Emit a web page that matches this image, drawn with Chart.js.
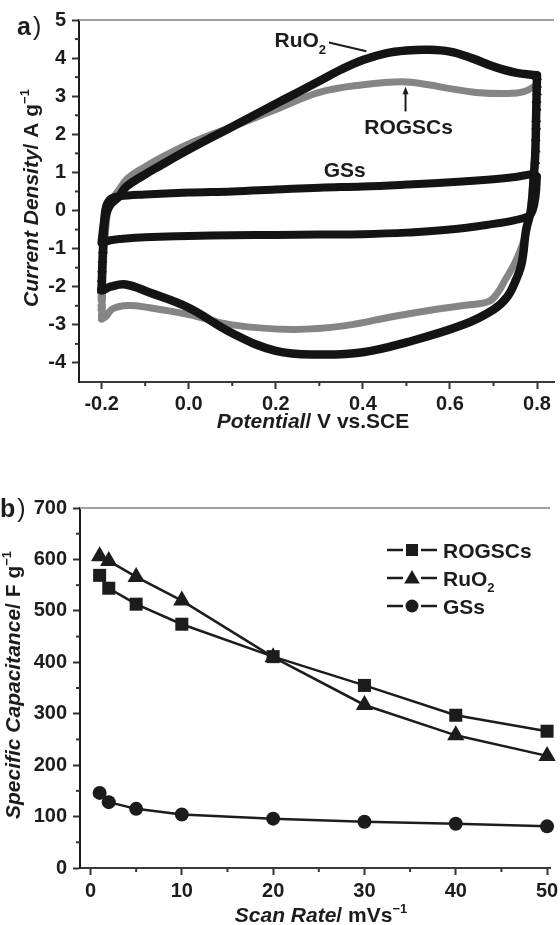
<!DOCTYPE html>
<html>
<head>
<meta charset="utf-8">
<script src="https://cdn.jsdelivr.net/npm/chart.js@4.4.0/dist/chart.umd.min.js"></script>
<style>
html, body { margin: 0; padding: 0; background: #fff; overflow: hidden; }
.box { position: relative; width: 560px; }
</style>
</head>
<body>
<div class="box" style="height:460px"><canvas id="chart-cv"></canvas></div>
<div class="box" style="height:465px"><canvas id="chart-rate"></canvas></div>
<script>
// ---- panel a: cyclic voltammograms (potential / V vs SCE, current density / A g-1)
const ruo2AnodicV = [-0.2, -0.198, -0.195, -0.19, -0.18, -0.16, -0.143, -0.1, -0.07, 0.0, 0.1, 0.2, 0.25, 0.3, 0.35, 0.4, 0.45, 0.5, 0.55, 0.6, 0.65, 0.7, 0.75, 0.8];
const ruo2AnodicI = [-2.0, -1.3, -0.6, -0.1, 0.15, 0.37, 0.63, 0.95, 1.15, 1.6, 2.2, 2.8, 3.1, 3.4, 3.7, 3.95, 4.12, 4.2, 4.22, 4.17, 4.0, 3.78, 3.62, 3.55];
const ruo2CathodicV = [0.8, 0.798, 0.796, 0.792, 0.786, 0.775, 0.765, 0.752, 0.732, 0.7, 0.63, 0.5, 0.4, 0.3, 0.2, 0.1, 0.0, -0.09, -0.145, -0.18, -0.2];
const ruo2CathodicI = [3.55, 2.5, 1.5, 0.8, 0.0, -0.5, -1.37, -1.81, -2.26, -2.6, -3.0, -3.46, -3.72, -3.78, -3.68, -3.22, -2.55, -2.15, -1.94, -2.0, -2.1];

const rogscsAnodicV = [-0.2, -0.198, -0.195, -0.19, -0.185, -0.175, -0.16, -0.14, -0.1, -0.07, 0.0, 0.1, 0.2, 0.3, 0.4, 0.49, 0.55, 0.6, 0.66, 0.73, 0.77, 0.8];
const rogscsAnodicI = [-2.85, -2.0, -1.2, -0.4, 0.0, 0.3, 0.55, 0.85, 1.15, 1.35, 1.75, 2.2, 2.65, 3.1, 3.3, 3.38, 3.3, 3.2, 3.1, 3.07, 3.12, 3.3];
const rogscsCathodicV = [0.8, 0.797, 0.792, 0.786, 0.777, 0.763, 0.748, 0.728, 0.71, 0.69, 0.64, 0.58, 0.47, 0.36, 0.24, 0.1, 0.0, -0.09, -0.14, -0.175, -0.19, -0.2];
const rogscsCathodicI = [3.3, 2.0, 1.0, 0.2, -0.5, -1.0, -1.4, -1.8, -2.15, -2.38, -2.48, -2.57, -2.78, -3.02, -3.12, -3.0, -2.73, -2.55, -2.49, -2.58, -2.78, -2.85];

const gssAnodicV = [-0.2, -0.195, -0.19, -0.18, -0.16, -0.1, 0.0, 0.1, 0.2, 0.3, 0.4, 0.5, 0.6, 0.7, 0.75, 0.79, 0.8];
const gssAnodicI = [-0.8, -0.3, 0.1, 0.3, 0.37, 0.42, 0.47, 0.5, 0.55, 0.6, 0.63, 0.68, 0.74, 0.82, 0.88, 0.95, 0.9];
const gssCathodicV = [0.8, 0.797, 0.79, 0.78, 0.75, 0.7, 0.6, 0.5, 0.4, 0.3, 0.2, 0.1, 0.0, -0.1, -0.16, -0.18, -0.2];
const gssCathodicI = [0.9, 0.4, 0.0, -0.15, -0.25, -0.35, -0.5, -0.58, -0.62, -0.63, -0.64, -0.65, -0.67, -0.7, -0.75, -0.78, -0.85];

// sparse points on the fast-switching edges, where single markers show
const ruo2EdgeV = [0.8, 0.8, 0.8, 0.799, 0.799, 0.798, 0.798, 0.797, 0.797, 0.796, 0.795, -0.2, -0.2, -0.199, -0.198, -0.197];
const ruo2EdgeI = [3.5, 3.3, 3.1, 2.9, 2.7, 2.4, 2.2, 1.9, 1.6, 1.3, 1.0, -2.1, -1.8, -1.55, -1.3, -1.05];
const rogscsEdgeV = [-0.2, -0.2, -0.199];
const rogscsEdgeI = [-2.3, -2.55, -2.8];

const cvTicksV = [-0.2, 0.0, 0.2, 0.4, 0.6, 0.8];
const cvTicksI = [-4, -3, -2, -1, 0, 1, 2, 3, 4, 5];

// ---- panel b: specific capacitance vs scan rate
const scanRates = [1, 2, 5, 10, 20, 30, 40, 50];
const capROGSCs = [569, 544, 513, 474, 411, 355, 297, 266];
const capRuO2 = [606, 597, 566, 520, 410, 317, 258, 218];
const capGSs = [146, 128, 115, 104, 96, 90, 86, 81];
const rateTicks = [0, 10, 20, 30, 40, 50];
const capTicks = [0, 100, 200, 300, 400, 500, 600, 700];

const FONT = '"Liberation Sans", Arial, Helvetica, sans-serif';
const INK = '#1c1c1c';
const tickFont = { family: FONT, size: 20, weight: 'bold' };

function pts(xs, ys) {
    return xs.map((x, k) => ({ x: x, y: ys[k] }));
}
function loop(v1, i1, v2, i2) {
    const p = pts(v1, i1).concat(pts(v2, i2));
    p.push(p[0]);
    return p;
}
function font(size, italic, weight) {
    return (italic ? 'italic ' : '') + (weight || 'bold') + ' ' + size + 'px ' + FONT;
}
// mixed italic / super- / subscript text, align left or center, optional rotation
function richText(ctx, parts, x, y, size, align, rotate) {
    const small = Math.round(size * 0.62);
    ctx.save();
    ctx.translate(x, y);
    if (rotate) ctx.rotate(rotate);
    ctx.textAlign = 'left';
    ctx.textBaseline = 'alphabetic';
    ctx.fillStyle = INK;
    let w = 0;
    parts.forEach(p => {
        ctx.font = font(p.sup || p.sub ? small : size, p.i, p.w);
        w += ctx.measureText(p.t).width;
    });
    let cx = align === 'center' ? -w / 2 : 0;
    parts.forEach(p => {
        ctx.font = font(p.sup || p.sub ? small : size, p.i, p.w);
        const dy = p.sup ? -size * 0.45 : (p.sub ? size * 0.3 : 0);
        ctx.fillText(p.t, cx, dy);
        cx += ctx.measureText(p.t).width;
    });
    ctx.restore();
}

function minorTicks(ctx, scale, values, len) {
    ctx.save();
    ctx.strokeStyle = '#333';
    ctx.lineWidth = 2;
    values.forEach(v => {
        const p = scale.getPixelForValue(v);
        ctx.beginPath();
        if (scale.isHorizontal()) {
            ctx.moveTo(p, scale.top);
            ctx.lineTo(p, scale.top + len);
        } else {
            ctx.moveTo(scale.right, p);
            ctx.lineTo(scale.right - len, p);
        }
        ctx.stroke();
    });
    ctx.restore();
}

const framePlugin = {
    id: 'frame',
    afterDraw(chart, args, opts) {
        const ctx = chart.ctx;
        const a = chart.chartArea;
        // light top frame line
        ctx.save();
        ctx.strokeStyle = '#a0a0a0';
        ctx.lineWidth = 2;
        ctx.beginPath();
        ctx.moveTo(a.left, a.top);
        ctx.lineTo(a.right, a.top);
        ctx.stroke();
        ctx.restore();
        minorTicks(ctx, chart.scales.x, opts.minorX, 4);
        minorTicks(ctx, chart.scales.y, opts.minorY, 4);
        // panel letter
        ctx.save();
        ctx.fillStyle = INK;
        ctx.textBaseline = 'alphabetic';
        ctx.font = font(25, false, 'bold');
        ctx.fillText(opts.letter, opts.letterX, opts.letterY);
        const lw = ctx.measureText(opts.letter).width;
        ctx.font = font(25, false, 'normal');
        ctx.fillText(')', opts.letterX + lw + 2, opts.letterY);
        ctx.restore();
        richText(ctx, opts.yTitle, opts.yTitleX, opts.yTitleY, 21, 'center', -Math.PI / 2);
        richText(ctx, opts.xTitle, opts.xTitleX, opts.xTitleY, 21, 'center', 0);
        if (opts.extra) opts.extra(chart, ctx);
    }
};

// ---------- chart a ----------
function cvNotes(chart, ctx) {
    const x = chart.scales.x, y = chart.scales.y;
    const X = v => x.getPixelForValue(v), Y = v => y.getPixelForValue(v);
    richText(ctx, [{ t: 'RuO' }, { t: '2', sub: true }], X(0.197), Y(4.28), 21, 'left');
    ctx.save();
    ctx.strokeStyle = INK;
    ctx.lineWidth = 2;
    ctx.beginPath();
    ctx.moveTo(X(0.322), Y(4.41));
    ctx.lineTo(X(0.408), Y(4.18));
    ctx.stroke();
    // arrow to ROGSCs
    const ax = X(0.498);
    ctx.beginPath();
    ctx.moveTo(ax, Y(2.6));
    ctx.lineTo(ax, Y(3.1));
    ctx.stroke();
    ctx.fillStyle = INK;
    ctx.beginPath();
    ctx.moveTo(ax, Y(3.25));
    ctx.lineTo(ax - 3, Y(3.05));
    ctx.lineTo(ax + 3, Y(3.05));
    ctx.closePath();
    ctx.fill();
    ctx.restore();
    richText(ctx, [{ t: 'ROGSCs' }], X(0.505), Y(2.02), 21, 'center');
    richText(ctx, [{ t: 'GSs' }], X(0.31), Y(0.87), 21, 'left');
}

const cvLine = {
    type: 'scatter', showLine: true, pointRadius: 0, tension: 0.4,
    borderWidth: 8.5, borderCapStyle: 'round', borderJoinStyle: 'round', clip: 8
};

new Chart(document.getElementById('chart-cv'), {
    type: 'scatter',
    data: {
        datasets: [
            Object.assign({}, cvLine, { label: 'RuO2', data: loop(ruo2AnodicV, ruo2AnodicI, ruo2CathodicV, ruo2CathodicI), borderColor: '#141414', order: 1 }),
            Object.assign({}, cvLine, { label: 'GSs', data: loop(gssAnodicV, gssAnodicI, gssCathodicV, gssCathodicI), borderColor: '#141414', borderWidth: 8, order: 2 }),
            Object.assign({}, cvLine, { label: 'ROGSCs', data: loop(rogscsAnodicV, rogscsAnodicI, rogscsCathodicV, rogscsCathodicI), borderColor: '#858585', borderWidth: 7, order: 3 }),
            { label: 'RuO2 edge', data: pts(ruo2EdgeV, ruo2EdgeI), pointStyle: 'triangle', pointRadius: 5, backgroundColor: '#141414', borderColor: '#141414', order: 0 },
            { label: 'ROGSCs edge', data: pts(rogscsEdgeV, rogscsEdgeI), pointStyle: 'rect', pointRadius: 5, backgroundColor: '#8a8a8a', borderColor: '#8a8a8a', order: 4 }
        ]
    },
    options: {
        responsive: true,
        maintainAspectRatio: false,
        animation: false,
        layout: { padding: { top: 20, left: 0, right: 0, bottom: 0 } },
        plugins: {
            legend: { display: false },
            tooltip: { enabled: false },
            frame: {
                letter: 'a', letterX: 17, letterY: 35,
                minorX: [-0.1, 0.1, 0.3, 0.5, 0.7],
                minorY: [-3.5, -2.5, -1.5, -0.5, 0.5, 1.5, 2.5, 3.5, 4.5],
                yTitle: [{ t: 'Current Density', i: true }, { t: '/ A g' }, { t: '\u22121', sup: true }],
                yTitleX: 38, yTitleY: 198,
                xTitle: [{ t: 'Potential', i: true }, { t: '/ V vs.SCE' }],
                xTitleX: 313, xTitleY: 428,
                extra: cvNotes
            }
        },
        scales: {
            x: {
                type: 'linear', min: -0.252, max: 0.839,
                afterBuildTicks: s => { s.ticks = cvTicksV.map(v => ({ value: v })); },
                ticks: { callback: v => v.toFixed(1), font: tickFont, color: INK, padding: 3, maxRotation: 0, autoSkip: false },
                grid: { drawOnChartArea: false, tickLength: 7, tickWidth: 2, tickColor: '#333' },
                border: { color: '#3a3a3a', width: 2 },
                afterFit: s => { s.height = 78; s.paddingLeft = 0; s.paddingRight = 0; }
            },
            y: {
                type: 'linear', min: -4.5, max: 5,
                afterBuildTicks: s => { s.ticks = cvTicksI.map(v => ({ value: v })); },
                ticks: { font: tickFont, color: INK, padding: 6, autoSkip: false },
                grid: { drawOnChartArea: false, tickLength: 7, tickWidth: 2, tickColor: '#333' },
                border: { color: '#1c1c1c', width: 2 },
                afterFit: s => { s.width = 79; s.paddingTop = 0; s.paddingBottom = 0; }
            }
        }
    },
    plugins: [framePlugin]
});

// ---------- chart b ----------
function rateLegend(chart, ctx) {
    const names = {
        'ROGSCs': [{ t: 'ROGSCs' }],
        'RuO2': [{ t: 'RuO' }, { t: '2', sub: true }],
        'GSs': [{ t: 'GSs' }]
    };
    const sizes = { rect: 8.5, triangle: 9, circle: 6.5 };
    chart.data.datasets.forEach((ds, k) => {
        const y = 90 + k * 28;
        ctx.save();
        ctx.strokeStyle = INK;
        ctx.lineWidth = 2.5;
        ctx.beginPath();
        ctx.moveTo(387, y);
        ctx.lineTo(403, y);
        ctx.moveTo(421, y);
        ctx.lineTo(437, y);
        ctx.stroke();
        ctx.fillStyle = INK;
        Chart.helpers.drawPoint(ctx, { pointStyle: ds.pointStyle, radius: sizes[ds.pointStyle], rotation: 0, borderWidth: 0 }, 412, ds.pointStyle === 'triangle' ? y + 1 : y);
        ctx.restore();
        richText(ctx, names[ds.label], 443, y + 8, 21, 'left');
    });
}

const rateLine = {
    borderColor: INK, backgroundColor: INK, borderWidth: 2.5,
    pointBorderWidth: 0, showLine: true, tension: 0, clip: false
};

new Chart(document.getElementById('chart-rate'), {
    type: 'scatter',
    data: {
        datasets: [
            Object.assign({}, rateLine, { label: 'ROGSCs', data: pts(scanRates, capROGSCs), pointStyle: 'rect', pointRadius: 9.2 }),
            Object.assign({}, rateLine, { label: 'RuO2', data: pts(scanRates, capRuO2), pointStyle: 'triangle', pointRadius: 10 }),
            Object.assign({}, rateLine, { label: 'GSs', data: pts(scanRates, capGSs), pointStyle: 'circle', pointRadius: 7 })
        ]
    },
    options: {
        responsive: true,
        maintainAspectRatio: false,
        animation: false,
        layout: { padding: { top: 48, left: 0, right: 0, bottom: 0 } },
        plugins: {
            legend: { display: false },
            tooltip: { enabled: false },
            frame: {
                letter: 'b', letterX: 0, letterY: 57,
                minorX: [5, 15, 25, 35, 45],
                minorY: [50, 150, 250, 350, 450, 550, 650],
                yTitle: [{ t: 'Specific Capacitance', i: true }, { t: '/ F g' }, { t: '\u22121', sup: true }],
                yTitleX: 20, yTitleY: 225,
                xTitle: [{ t: 'Scan Rate', i: true }, { t: '/ mVs' }, { t: '\u22121', sup: true }],
                xTitleX: 321, xTitleY: 462,
                extra: rateLegend
            }
        },
        scales: {
            x: {
                type: 'linear', min: -1.15, max: 50.32,
                afterBuildTicks: s => { s.ticks = rateTicks.map(v => ({ value: v })); },
                ticks: { font: tickFont, color: INK, padding: 4, maxRotation: 0, autoSkip: false },
                grid: { drawOnChartArea: false, tickLength: 7, tickWidth: 2, tickColor: '#333' },
                border: { color: '#3a3a3a', width: 2 },
                afterFit: s => { s.height = 57; s.paddingLeft = 0; s.paddingRight = 0; }
            },
            y: {
                type: 'linear', min: 0, max: 700,
                afterBuildTicks: s => { s.ticks = capTicks.map(v => ({ value: v })); },
                ticks: { font: tickFont, color: INK, padding: 6, autoSkip: false },
                grid: { drawOnChartArea: false, tickLength: 7, tickWidth: 2, tickColor: '#333' },
                border: { color: '#1c1c1c', width: 2 },
                afterFit: s => { s.width = 80; s.paddingTop = 0; s.paddingBottom = 0; }
            }
        }
    },
    plugins: [framePlugin]
});
</script>
</body>
</html>
